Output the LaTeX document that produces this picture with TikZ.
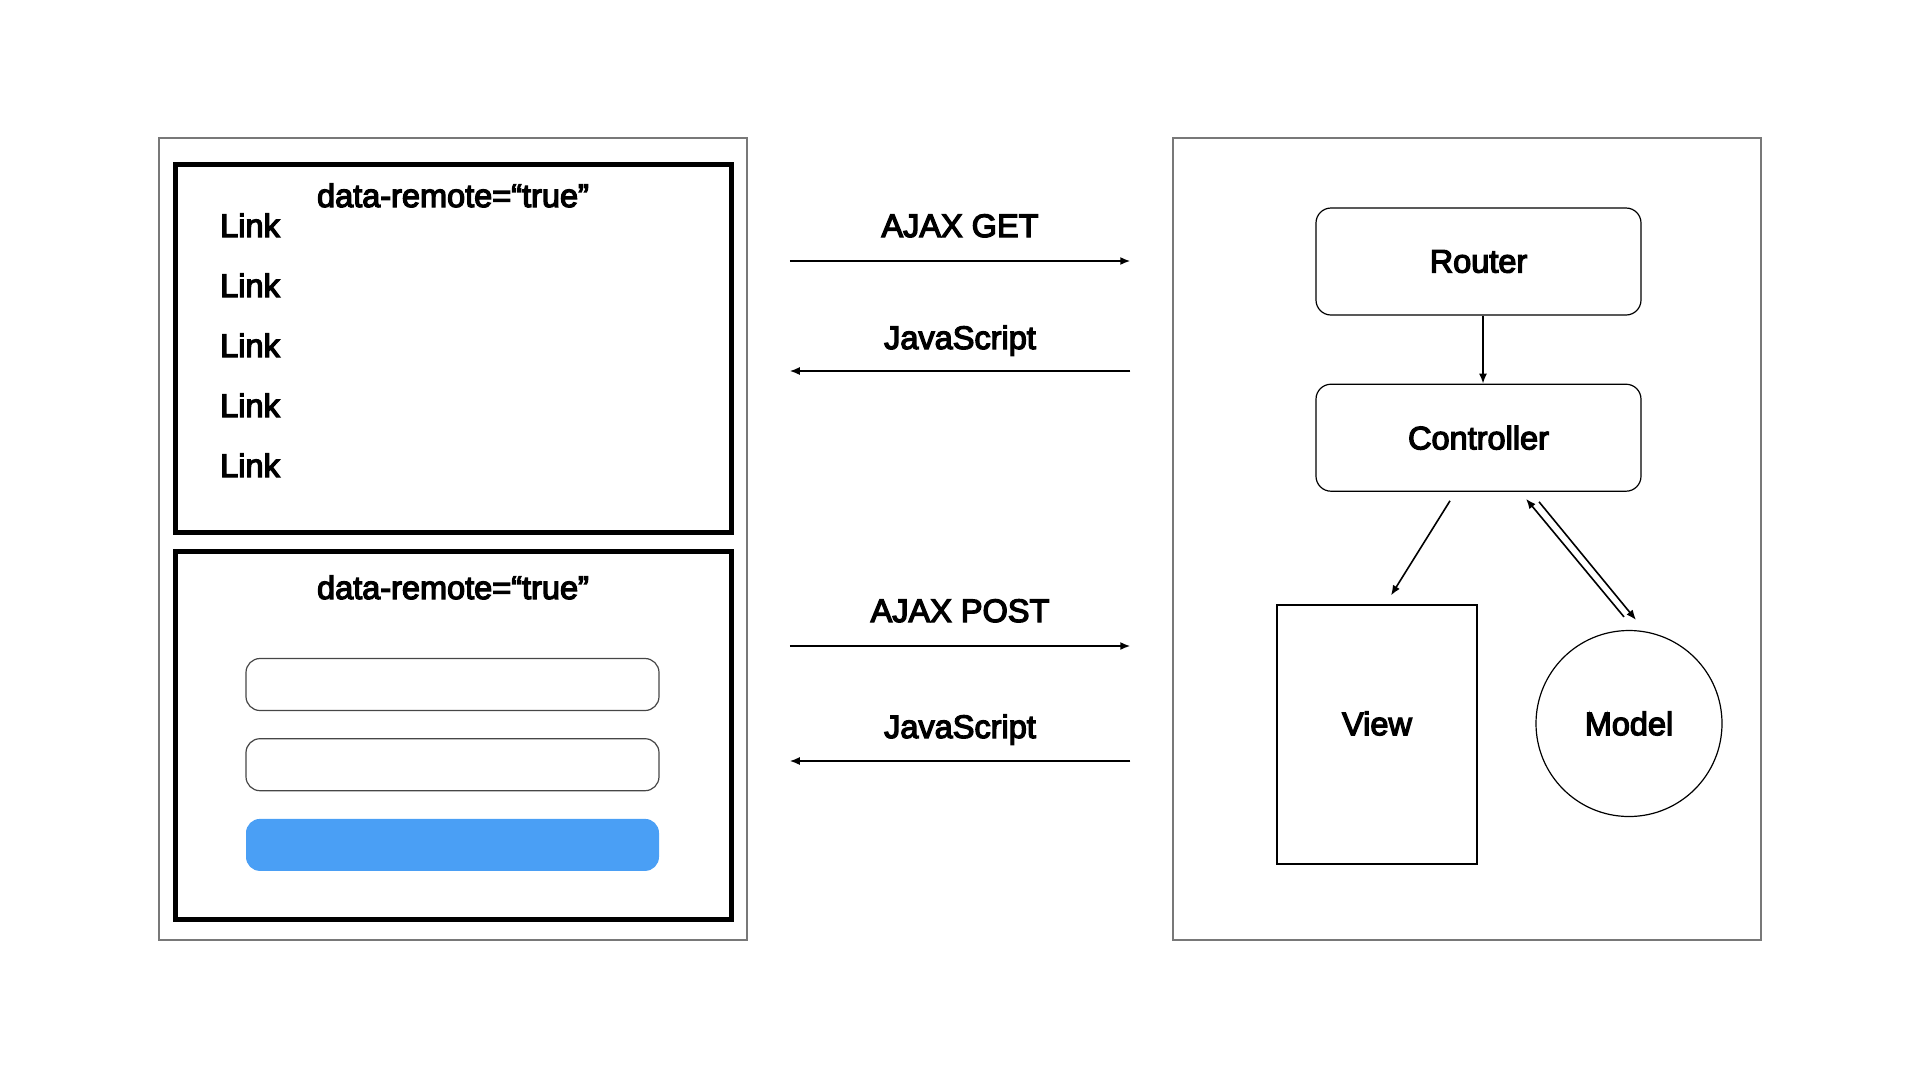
\documentclass[tikz,border=0pt]{standalone}
\usepackage{fontspec}
\usetikzlibrary{positioning,calc,arrows.meta}
\newfontfamily\diagfont{Liberation Sans}[FakeBold=4]
\definecolor{framegray}{RGB}{120,120,120}
\definecolor{fieldgray}{RGB}{70,70,70}
\definecolor{buttonblue}{RGB}{74,159,245}
\tikzset{
  txt/.style={font=\diagfont\fontsize{32.5}{38}\selectfont, inner sep=0pt},
  outerbox/.style={draw=framegray, line width=1.5pt, inner sep=0pt, minimum width=588pt, minimum height=802pt},
  panel/.style={draw, line width=5pt, inner sep=0pt, minimum width=556pt, minimum height=368pt},
  field/.style={draw=fieldgray, line width=1.2pt, rounded corners=14pt, inner sep=0pt, minimum width=413pt, minimum height=52pt},
  block/.style={txt, draw, line width=1.2pt, rounded corners=15pt, minimum width=325pt, minimum height=107pt},
  arr/.style={-{Latex[length=10pt,width=8pt]}, line width=1.6pt},
}
\begin{document}
\begin{tikzpicture}[x=1pt,y=-1pt]
\useasboundingbox (0,0) rectangle (1920,1080);

\node[outerbox] (client) at (453,539) {};
\node[outerbox] (server) at (1467,539) {};

\node[panel] (links) at (453,348.5) {};
\node[txt, anchor=base] (remote1) at (453,207) {data-remote=“true”};
\foreach \i in {1,...,5}
  \node[txt, anchor=base west] (link\i) at (220,{177+60*\i}) {Link};

\node[panel] (form) at (453,735) {};
\node[txt, anchor=base] (remote2) at (453,599) {data-remote=“true”};
\node[field] (field1) at (452.5,684.5) {};
\node[field, below=27pt of field1] (field2) {};
\node[field, below=27pt of field2, draw=none, fill=buttonblue] (button) {};

\node[txt, anchor=base] (get) at (960,237) {AJAX GET};
\node[txt, anchor=base] (js1) at (960,349) {JavaScript};
\node[txt, anchor=base] (post) at (960,622) {AJAX POST};
\node[txt, anchor=base] (js2) at (960,738) {JavaScript};
\draw[arr, shorten <=42pt, shorten >=42pt] (client.east |- 0,261) -- (server.west |- 0,261);
\draw[arr, shorten <=42pt, shorten >=42pt] (server.west |- 0,371) -- (client.east |- 0,371);
\draw[arr, shorten <=42pt, shorten >=42pt] (client.east |- 0,646) -- (server.west |- 0,646);
\draw[arr, shorten <=42pt, shorten >=42pt] (server.west |- 0,761) -- (client.east |- 0,761);

\node[block] (router) at (1478.5,261.5) {Router};
\node[block, below=68pt of router] (ctrl) {Controller};
\node[draw, line width=1.2pt, minimum width=200pt, minimum height=259pt] (view) at (1377,734.5) {};
\node[txt, draw, circle, line width=1.2pt, minimum size=186pt] (model) at (1629,723.5) {Model};
\node[txt] (viewlabel) at (view.center |- model) {View};

\draw[arr] ($(router.south)+(4.5,0)$) -- ($(ctrl.north)+(4.5,0)$);
\draw[arr] ($(ctrl.south)+(-28.5,9)$) -- ($(view.north)+(14,-9)$);
\draw[arr] ($(model.north)+(-5,-13)$) -- ($(ctrl.south)+(47.5,7)$);
\draw[arr] ($(ctrl.south)+(60.5,10)$) -- ($(model.north)+(7,-10)$);
\end{tikzpicture}
\end{document}
